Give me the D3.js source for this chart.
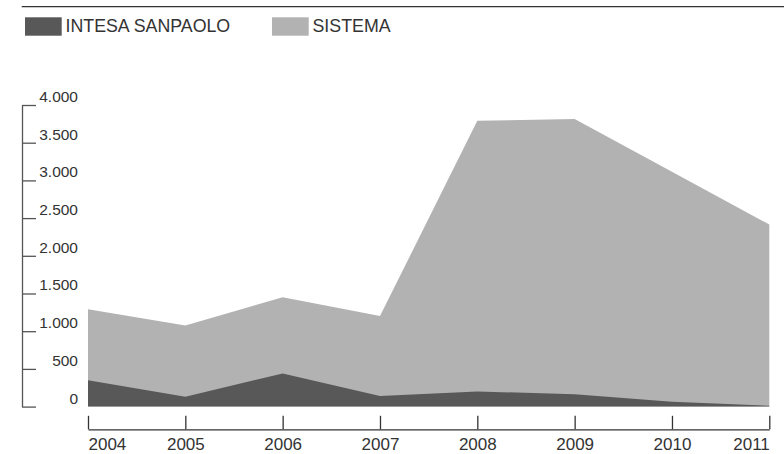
<!DOCTYPE html>
<html>
<head>
<meta charset="utf-8">
<script src="https://cdn.jsdelivr.net/npm/d3@7"></script>
<style>
  html, body { margin: 0; padding: 0; background: #fff; overflow: hidden; }
  svg { display: block; }
  text { font-family: "Liberation Sans", Arial, Helvetica, sans-serif; fill: #333; }
</style>
</head>
<body>
<svg id="chart" width="784" height="454"></svg>
<script>
// Years on the horizontal axis
const years = [2004, 2005, 2006, 2007, 2008, 2009, 2010, 2011];
// Values per year for each series
const intesaValues = [350, 130, 440, 140, 200, 165, 65, 12];
const sistemaValues = [1290, 1075, 1450, 1200, 3790, 3815, 3115, 2415];
// Series names shown in the legend
const seriesNames = ["INTESA SANPAOLO", "SISTEMA"];
// Y axis tick values
const yTicks = [0, 500, 1000, 1500, 2000, 2500, 3000, 3500, 4000];

const colors = { intesa: "#585858", sistema: "#b2b2b2" };

const svg = d3.select("#chart");

const x = d3.scaleLinear().domain([2004, 2011]).range([88, 769.3]);
const y = d3.scaleLinear().domain([0, 4000]).range([406.6, 105]);

const itLocale = d3.formatLocale({ decimal: ",", thousands: ".", grouping: [3], currency: ["€", ""] });
const fmt = itLocale.format(",.0f");

// Top rule
svg.append("line")
  .attr("x1", 21.7).attr("x2", 784)
  .attr("y1", 6.7).attr("y2", 6.7)
  .attr("stroke", "#333").attr("stroke-width", 1.3);

// Legend
const legend = svg.append("g");
const legendItems = [
  { name: seriesNames[0], color: colors.intesa, x: 25 },
  { name: seriesNames[1], color: colors.sistema, x: 272 }
];
legendItems.forEach(d => {
  legend.append("rect")
    .attr("x", d.x).attr("y", 17.3)
    .attr("width", 36.7).attr("height", 18.4)
    .attr("fill", d.color);
  legend.append("text")
    .attr("x", d.x + 40.5).attr("y", 32.4)
    .attr("font-size", 17.8)
    .text(d.name);
});

// Areas (overlaid, both from zero)
const rows = years.map((yr, i) => ({ year: yr, intesa: intesaValues[i], sistema: sistemaValues[i] }));

const areaOf = key => d3.area()
  .x(d => x(d.year))
  .y0(y(0))
  .y1(d => y(d[key]));

svg.append("path")
  .datum(rows)
  .attr("d", areaOf("sistema"))
  .attr("fill", colors.sistema);

svg.append("path")
  .datum(rows)
  .attr("d", areaOf("intesa"))
  .attr("fill", colors.intesa);

// Y axis
const yAxis = svg.append("g")
  .attr("transform", "translate(22,0)")
  .call(d3.axisRight(y).tickValues(yTicks).tickFormat(fmt).tickSizeInner(14).tickSizeOuter(0));
yAxis.select(".domain").attr("stroke", "#555").attr("stroke-width", 1.3);
yAxis.selectAll(".tick line").attr("stroke", "#555").attr("stroke-width", 1.3);
yAxis.selectAll(".tick text")
  .attr("x", 56)
  .attr("dy", "-3.6")
  .attr("text-anchor", "end")
  .attr("font-size", 15.5)
  .attr("fill", "#333");

// X axis: ticks point up from the baseline, labels below
const xAxis = svg.append("g")
  .attr("transform", "translate(0,429.3)")
  .call(d3.axisBottom(x).tickValues(years).tickFormat(d3.format("d")).tickSizeInner(-13.5).tickSizeOuter(0));
xAxis.select(".domain").attr("stroke", "#333").attr("stroke-width", 1.3);
xAxis.selectAll(".tick line").attr("stroke", "#333").attr("stroke-width", 1.3);
xAxis.selectAll(".tick text")
  .attr("y", 20.5)
  .attr("dy", null)
  .attr("font-size", 17)
  .attr("fill", "#333")
  .attr("text-anchor", (d, i) => i === 0 ? "start" : (i === years.length - 1 ? "end" : "middle"));
svg.selectAll("g").attr("font-family", null).attr("font-size", null);
</script>
</body>
</html>
